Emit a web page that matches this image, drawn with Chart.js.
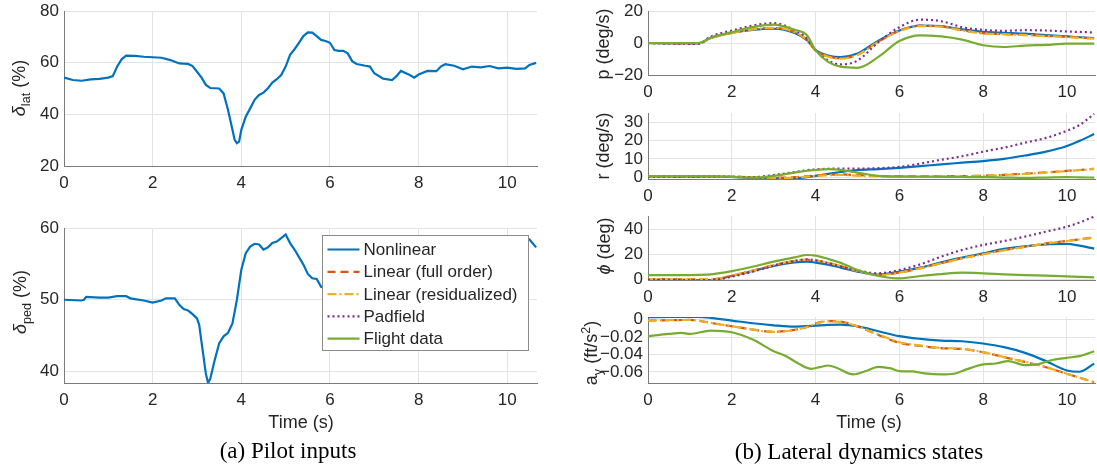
<!DOCTYPE html>
<html>
<head>
<meta charset="utf-8">
<script src="https://cdn.jsdelivr.net/npm/chart.js@4.4.1/dist/chart.umd.min.js"></script>
<style>
  html, body { margin: 0; padding: 0; background: #fff; }
  body { position: relative; width: 1097px; height: 470px; overflow: hidden; }
  canvas { position: absolute; }
  .yl { position: absolute; font: 18px "Liberation Sans", Arial, sans-serif; color: #262626; white-space: nowrap; line-height: 1; transform: translate(-50%, -50%) rotate(-90deg); }
  .yl sub, .yl sup { font-size: 70%; line-height: 0; }
  .xl { position: absolute; font: 18px "Liberation Sans", Arial, sans-serif; color: #262626; white-space: nowrap; transform: translate(-50%, -50%); }
  .cap { position: absolute; font: 23px "Liberation Serif", "Times New Roman", serif; color: #000; white-space: nowrap; transform: translate(-50%, -50%); }
</style>
</head>
<body>
<canvas id="lat"></canvas>
<canvas id="ped"></canvas>
<canvas id="pr"></canvas>
<canvas id="rr"></canvas>
<canvas id="phi"></canvas>
<canvas id="ay"></canvas>

<div class="yl" style="left:19px;top:88px"><i>δ</i><sub>lat</sub> (%)</div>
<div class="yl" style="left:20px;top:302px"><i>δ</i><sub>ped</sub> (%)</div>
<div class="xl" style="left:301px;top:422px">Time (s)</div>
<div class="cap" style="left:288px;top:451px">(a) Pilot inputs</div>

<div class="yl" style="left:603px;top:44px">p (deg/s)</div>
<div class="yl" style="left:603px;top:146px">r (deg/s)</div>
<div class="yl" style="left:604px;top:246px"><i>ϕ</i> (deg)</div>
<div class="yl" style="left:591px;top:353px">a<sub>y</sub> (ft/s<sup>2</sup>)</div>
<div class="xl" style="left:869px;top:422px">Time (s)</div>
<div class="cap" style="left:859px;top:452px">(b) Lateral dynamics states</div>

<script>
// pilot inputs
const tLat = [0, 0.2, 0.4, 0.6, 0.8, 1.0, 1.1, 1.2, 1.3, 1.4, 1.6, 1.8, 2.0, 2.2, 2.4, 2.6, 2.8, 2.9, 3.0, 3.1,
    3.2, 3.3, 3.4, 3.5, 3.6, 3.7, 3.8, 3.85, 3.9, 3.95, 4.0, 4.1, 4.2, 4.3, 4.4, 4.5, 4.6, 4.7, 4.8, 4.9,
    5.0, 5.1, 5.2, 5.3, 5.4, 5.5, 5.6, 5.7, 5.8, 5.9, 6.0, 6.1, 6.2, 6.3, 6.4, 6.5, 6.6, 6.8, 6.9, 7.0,
    7.2, 7.4, 7.5, 7.6, 7.8, 7.9, 8.0, 8.2, 8.4, 8.5, 8.6, 8.8, 9.0, 9.2, 9.4, 9.6, 9.8, 10.0, 10.2, 10.4,
    10.5, 10.65]
const latVals = [54.2, 53.3, 53.0, 53.5, 53.7, 54.2, 54.8, 58.5, 61.3, 62.7, 62.6, 62.3, 62.1, 61.9, 61.0, 59.7, 59.5, 58.7, 56.5, 54.3,
    51.4, 50.2, 50.1, 50.0, 48.1, 41.7, 34.0, 30.1, 28.8, 29.4, 34.0, 39.1, 42.3, 45.6, 47.5, 48.4, 50.1, 52.3, 53.6, 55.2,
    58.5, 63.0, 65.2, 67.7, 70.3, 71.7, 71.6, 70.3, 68.8, 68.4, 67.7, 64.9, 64.6, 64.6, 63.6, 60.6, 59.5, 58.8, 58.5, 55.9,
    53.8, 53.3, 54.8, 56.8, 55.2, 54.2, 55.4, 56.8, 56.7, 58.5, 59.4, 58.8, 57.4, 58.5, 58.2, 58.7, 57.8, 58.1, 57.6, 57.8,
    59.1, 59.9]
const tPed = [0, 0.4, 0.45, 0.5, 0.8, 1.0, 1.2, 1.4, 1.5, 1.6, 1.8, 2.0, 2.2, 2.3, 2.5, 2.6, 2.7, 2.8, 2.9, 3.0,
    3.05, 3.1, 3.2, 3.25, 3.3, 3.4, 3.5, 3.6, 3.7, 3.8, 3.9, 4.0, 4.1, 4.2, 4.3, 4.4, 4.5, 4.6, 4.7, 4.8,
    4.9, 5.0, 5.1, 5.2, 5.4, 5.5, 5.6, 5.7, 5.8, 5.85, 6.0, 6.5, 7.0, 7.5, 8.0, 8.5, 9.0, 9.5, 10.0, 10.4,
    10.5, 10.65]
const pedVals = [50.0, 49.9, 50.0, 50.4, 50.3, 50.3, 50.5, 50.5, 50.2, 50.1, 49.9, 49.6, 49.9, 50.2, 50.2, 49.3, 48.7, 48.5, 48.0, 47.4,
    46.5, 44.2, 39.7, 38.4, 39.0, 41.6, 43.9, 44.9, 45.4, 46.7, 50.0, 54.2, 56.5, 57.4, 57.8, 57.7, 57.0, 57.3, 57.9, 58.1,
    58.6, 59.1, 57.9, 57.0, 54.9, 53.6, 53.0, 52.9, 51.8, 51.7, 51.6, 52.5, 53.5, 54.5, 55.5, 56.5, 57.2, 57.8, 58.3, 58.6,
    58.4, 57.3]

// lateral states, shared time base
const tR = [0, 0.5, 1, 1.2, 1.5, 2, 2.5, 3, 3.5, 3.8, 4, 4.3, 4.6, 5, 5.5, 6, 6.5, 7, 7.5, 8, 8.5, 9, 9.5, 10, 10.3, 10.65]

const pNonlin = [0, -0.2, -0.3, -0.3, 3.3, 6.4, 8.2, 8.9, 6.2, 1.6, -4.5, -7.8, -8.8, -6.6, 1.5, 7.8, 10.9, 10.5, 8.5, 7.0, 6.4, 5.8, 4.9, 4.1, 3.6, 3.1]
const pFull = [0, -0.2, -0.3, -0.3, 3.1, 6.3, 8.6, 9.4, 6.7, 1.7, -4.7, -8.3, -9.6, -7.3, 1.0, 7.6, 10.8, 10.4, 8.0, 6.2, 5.6, 5.1, 4.5, 3.9, 3.4, 2.9]
const pResid = [0, -0.2, -0.3, -0.3, 3.0, 6.2, 8.5, 9.5, 6.8, 1.8, -4.8, -8.5, -9.8, -7.5, 0.8, 7.4, 10.6, 10.2, 7.8, 6.0, 5.4, 4.9, 4.3, 3.7, 3.2, 2.7]
const pPadfield = [0, -0.3, -0.5, -0.5, 4.1, 7.8, 10.9, 12.4, 8.0, 2.7, -4.5, -10.9, -13.4, -11.0, 0.6, 9.9, 14.6, 13.6, 9.9, 8.2, 7.6, 8.0, 7.8, 7.2, 6.9, 6.6]
const pFlight = [0, 0, 0, 0, 3.3, 6.8, 9.9, 11.5, 8.3, 4.7, -4.5, -11.8, -14.8, -15.5, -8.7, 1.2, 4.8, 4.1, 2.1, -1.4, -2.5, -1.6, -1.2, -0.4, -0.4, -0.4]

const rNonlin = [0.3, 0.3, 0.3, 0.3, 0.3, 0.2, -0.5, -0.7, -0.6, 0, 0.7, 1.8, 2.8, 3.9, 4.4, 5.1, 6.0, 7.0, 7.9, 8.8, 10.0, 11.8, 13.9, 17.0, 19.8, 23.5]
const rFull = [0.3, 0.3, 0.3, 0.3, 0.3, 0.2, 0, -0.3, 0, 0.5, 0.9, 1.3, 1.5, 1.1, 0.6, 0.4, 0.4, 0.5, 0.6, 0.8, 1.3, 1.9, 2.6, 3.4, 3.9, 4.6]
const rResid = [0.3, 0.3, 0.3, 0.3, 0.3, 0.2, 0, -0.4, -0.2, 0.3, 0.7, 1.0, 1.2, 0.8, 0.4, 0.2, 0.3, 0.4, 0.5, 0.7, 1.2, 1.8, 2.5, 3.3, 3.8, 4.5]
const rPadfield = [0.3, 0.3, 0.3, 0.3, 0.3, 0.2, 0, 1.2, 2.8, 3.8, 4.2, 4.6, 4.7, 4.7, 4.9, 5.6, 7.4, 9.5, 11.4, 13.9, 16.1, 18.8, 21.4, 25.3, 28.4, 34.5]
const rFlight = [0.5, 0.5, 0.5, 0.5, 0.4, 0.2, -0.3, 0.7, 2.5, 3.5, 3.9, 4.4, 4.0, 2.5, 0.7, 0.4, 0.3, 0.2, 0.1, 0, -0.2, -0.4, -0.2, 0, -0.1, -0.2]

const phiNonlin = [-0.5, -0.7, -1, -1, -0.8, 2.4, 6.4, 10.5, 13.4, 14.0, 13.2, 11.5, 9.2, 5.9, 3.5, 5.9, 9.1, 13.4, 17.2, 20.7, 24.2, 26.3, 27.9, 28.2, 26.8, 24.5]
const phiFull = [0, -0.2, -0.3, -0.3, -0.3, 2.6, 6.7, 11.2, 14.5, 15.5, 14.9, 12.9, 10.4, 6.4, 3.3, 5.2, 8.8, 12.8, 16.8, 20.1, 23.3, 26.0, 28.6, 30.7, 31.9, 33.4]
const phiResid = [0, -0.2, -0.3, -0.3, -0.3, 2.7, 6.8, 11.3, 14.6, 15.6, 15.0, 13.0, 10.5, 6.4, 3.2, 5.1, 8.6, 12.6, 16.6, 19.9, 23.1, 25.8, 28.5, 30.6, 31.8, 33.3]
const phiPadfield = [-0.5, -0.7, -1, -1, -1, 1.9, 5.9, 10.7, 14.5, 15.8, 15.0, 12.8, 10.0, 7.0, 4.6, 7.2, 11.8, 18.0, 23.4, 27.4, 30.6, 34.1, 38.1, 42.1, 45.5, 50.2]
const phiFlight = [3.2, 3.2, 3.2, 3.3, 3.8, 6.4, 9.9, 14.0, 17.4, 19.3, 18.8, 16.2, 13.0, 7.2, 2.4, 0.5, 2.4, 4.0, 5.1, 4.6, 3.8, 3.2, 2.7, 2.1, 1.7, 1.3]

const ayNonlin = [0.0027, 0.003, 0.003, 0.003, 0.002, -0.0011, -0.0042, -0.0065, -0.008, -0.0075, -0.0069, -0.006, -0.0057, -0.0076, -0.0133, -0.019, -0.0221, -0.024, -0.0248, -0.0274, -0.0316, -0.0381, -0.0476, -0.0583, -0.0598, -0.0505]
const ayFull = [-0.0011, -0.0006, -0.0004, -0.0012, -0.0038, -0.0076, -0.0114, -0.014, -0.0118, -0.0083, -0.0044, -0.0017, -0.0023, -0.0078, -0.0176, -0.0266, -0.0302, -0.0327, -0.0337, -0.0374, -0.0431, -0.0485, -0.0546, -0.0622, -0.0666, -0.0719]
const ayResid = [-0.0011, -0.0006, -0.0004, -0.0012, -0.0038, -0.0076, -0.0114, -0.0141, -0.012, -0.0085, -0.0046, -0.0019, -0.0025, -0.0076, -0.0171, -0.0259, -0.0297, -0.0324, -0.0335, -0.0373, -0.043, -0.0484, -0.0545, -0.0621, -0.0665, -0.0718]
const tAyFlight = [0, 0.5, 0.8, 1, 1.5, 2, 2.5, 3, 3.3, 3.6, 3.9, 4.1, 4.3, 4.5, 4.9, 5.2, 5.5, 5.8, 6.0, 6.3,
    6.6, 7, 7.3, 7.6, 8, 8.3, 8.6, 9, 9.3, 9.6, 10, 10.3, 10.65]
const ayFlight = [-0.019, -0.0164, -0.0152, -0.0164, -0.0126, -0.0145, -0.0229, -0.0362, -0.0419, -0.0507, -0.0564, -0.0545, -0.0526, -0.0552, -0.0629, -0.059, -0.0541, -0.056, -0.059, -0.0594,
    -0.0617, -0.0629, -0.0621, -0.0571, -0.0514, -0.0503, -0.0476, -0.0522, -0.0514, -0.0469, -0.0438, -0.0419, -0.0362]

const names = ['Nonlinear', 'Linear (full order)', 'Linear (residualized)', 'Padfield', 'Flight data']
const colors = ['#0072BD', '#D95319', '#EDB120', '#7E2F8E', '#77AC30']
const dashes = [[], [8, 5], [9, 3, 2, 3], [2, 3], []]
const T_MAX = 10.67

Chart.defaults.font.family = '"Liberation Sans", Arial, sans-serif'
Chart.defaults.color = '#262626'

function pts(t, v) {
    return t.map((x, i) => ({ x: x, y: v[i] }))
}

function series(i, t, v, smooth) {
    return {
        label: names[i],
        data: v && v.length ? pts(t, v) : [],
        borderColor: colors[i],
        backgroundColor: colors[i],
        borderWidth: 2.2,
        borderDash: dashes[i],
        pointRadius: 0,
        fill: false,
        order: 5 - i,
        cubicInterpolationMode: smooth ? 'monotone' : 'default',
        tension: 0,
    }
}

// matlab style legend box, drawn over the plot
const boxLegend = {
    id: 'boxLegend',
    afterDatasetsDraw(chart, args, opts) {
        if (!opts.show) return
        const ctx = chart.ctx,
            a = chart.chartArea,
            x0 = Math.round(a.left + opts.dx) + 0.5,
            y0 = Math.round(a.top + opts.dy) + 0.5
        ctx.save()
        ctx.fillStyle = '#fff'
        ctx.fillRect(x0, y0, opts.w, opts.h)
        ctx.strokeStyle = '#8a8a8a'
        ctx.lineWidth = 1
        ctx.strokeRect(x0, y0, opts.w, opts.h)
        chart.data.datasets.forEach((d, i) => {
            const y = y0 + 14 + i * opts.row
            ctx.strokeStyle = d.borderColor
            ctx.lineWidth = d.borderWidth
            ctx.setLineDash(d.borderDash)
            ctx.beginPath()
            ctx.moveTo(x0 + 5, y)
            ctx.lineTo(x0 + 37, y)
            ctx.stroke()
            ctx.setLineDash([])
            ctx.fillStyle = '#262626'
            ctx.font = '17px "Liberation Sans", Arial, sans-serif'
            ctx.textBaseline = 'middle'
            ctx.fillText(d.label, x0 + 41, y + 1)
        })
        ctx.restore()
    },
}

const YW = 60, PT = 18, PR = 4, XH = 30

function fmt(v) {
    return String(+(+v).toFixed(3)).replace('-', '\u2212')
}

function makeChart(id, box, yr, datasets, legend) {
    const cv = document.getElementById(id)
    cv.width = box.r - box.l + YW + PR
    cv.height = box.b - box.t + PT + XH
    cv.style.left = box.l - YW + 'px'
    cv.style.top = box.t - PT + 'px'
    return new Chart(cv, {
        type: 'line',
        data: { datasets: datasets },
        options: {
            responsive: false,
            animation: false,
            events: [],
            layout: { padding: { top: PT, right: PR, left: 0, bottom: 0 } },
            plugins: {
                legend: { display: false },
                tooltip: { enabled: false },
                boxLegend: legend || { show: false },
            },
            scales: {
                x: {
                    type: 'linear',
                    min: 0,
                    max: T_MAX,
                    ticks: { stepSize: 2, includeBounds: false, autoSkip: false, padding: 7, maxRotation: 0, font: { size: 17 }, callback: fmt },
                    grid: { color: '#e3e3e3', drawTicks: false },
                    border: { color: '#7a7a7a', width: 1 },
                    afterFit: (s) => { s.height = XH },
                },
                y: {
                    type: 'linear',
                    min: yr[0],
                    max: yr[1],
                    ticks: { stepSize: yr[2], includeBounds: false, autoSkip: false, padding: 5, font: { size: 17 }, callback: fmt },
                    grid: { color: '#e3e3e3', drawTicks: false },
                    border: { color: '#7a7a7a', width: 1 },
                    afterFit: (s) => { s.width = YW },
                },
            },
        },
        plugins: [boxLegend],
    })
}

makeChart('lat', { l: 64, r: 537, t: 11, b: 166 }, [20, 80, 20], [series(0, tLat, latVals, false)])

makeChart('ped', { l: 64, r: 537, t: 228, b: 383 }, [38.4, 60, 10], [
    series(0, tPed, pedVals, false),
    series(1, tPed, [], false),
    series(2, tPed, [], false),
    series(3, tPed, [], false),
    series(4, tPed, [], false),
], { show: true, dx: 258, dy: 7, w: 206, h: 115, row: 22.3 })

makeChart('pr', { l: 648, r: 1095, t: 11, b: 75 }, [-20, 20, 20], [
    series(0, tR, pNonlin, true),
    series(1, tR, pFull, true),
    series(2, tR, pResid, true),
    series(3, tR, pPadfield, true),
    series(4, tR, pFlight, true),
])

makeChart('rr', { l: 648, r: 1095, t: 113, b: 179 }, [-1, 35, 10], [
    series(0, tR, rNonlin, true),
    series(1, tR, rFull, true),
    series(2, tR, rResid, true),
    series(3, tR, rPadfield, true),
    series(4, tR, rFlight, true),
])

makeChart('phi', { l: 648, r: 1095, t: 216, b: 280 }, [-0.8, 50.7, 20], [
    series(0, tR, phiNonlin, true),
    series(1, tR, phiFull, true),
    series(2, tR, phiResid, true),
    series(3, tR, phiPadfield, true),
    series(4, tR, phiFlight, true),
])

makeChart('ay', { l: 648, r: 1095, t: 317, b: 383 }, [-0.0727, 0.003, 0.02], [
    series(0, tR, ayNonlin, true),
    series(1, tR, ayFull, true),
    series(2, tR, ayResid, true),
    series(4, tAyFlight, ayFlight, true),
])
</script>
</body>
</html>
